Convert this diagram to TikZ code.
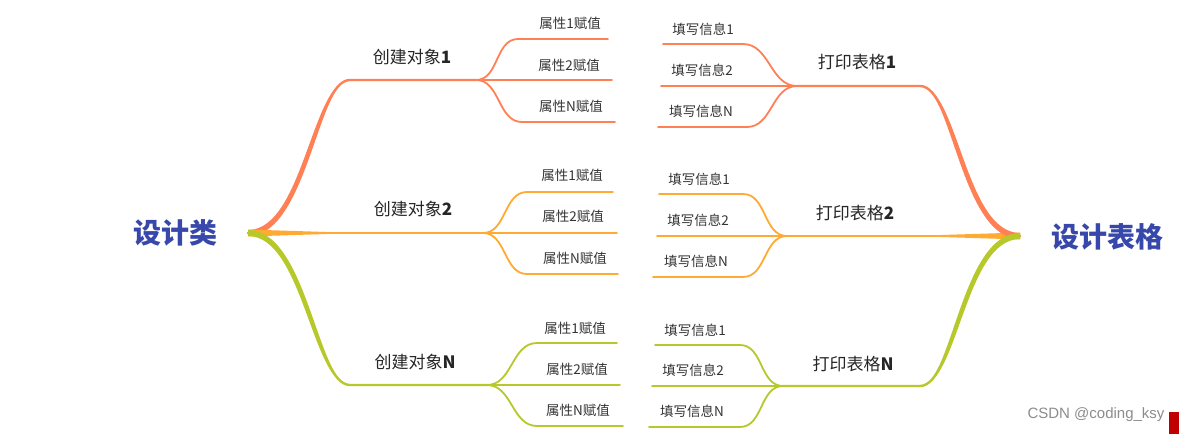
\documentclass[tikz,border=0pt]{standalone}
\usepackage{fontspec}
\setmainfont{Noto Sans CJK SC}
\newfontfamily\wmfont{Liberation Sans}
\usetikzlibrary{calc}
\definecolor{cOne}{RGB}{255,128,85}
\definecolor{cTwo}{RGB}{255,170,50}
\definecolor{cThree}{RGB}{182,200,42}
\definecolor{rootblue}{RGB}{55,72,170}
\definecolor{txtgray}{RGB}{51,51,51}
\definecolor{wmgray}{RGB}{140,140,140}
\definecolor{wmred}{RGB}{192,0,0}
\begin{document}
\begin{tikzpicture}[x=1pt,y=-1pt,
  rootlabel/.style={inner sep=0pt, font=\fontsize{28}{30}\selectfont\bfseries, text=rootblue},
  mainlabel/.style={inner sep=0pt, font=\fontsize{17}{19}\selectfont, text=black!85},
  sublabel/.style={inner sep=0pt, font=\fontsize{13.5}{15}\selectfont, text=txtgray},
  subline/.style={line width=1.8pt, line cap=round},
  mainline/.style={line width=2.4pt, line cap=round},
]
\path[use as bounding box] (0,0) rectangle (1179,434);

% ---------- coordinates ----------
\coordinate (rootL) at (248,233);
\coordinate (rootR) at (1020,236);
\coordinate (m1s) at (350,80);  \coordinate (m1j) at (476,80);
\coordinate (m2j) at (483,233);
\coordinate (m3s) at (350,385); \coordinate (m3j) at (487,385);
\coordinate (n1s) at (920,86);  \coordinate (n1j) at (797,86);
\coordinate (n2j) at (787,236);
\coordinate (n3s) at (920,386); \coordinate (n3j) at (783,386);
% left sub ends
\coordinate (a11s) at (518,39);  \coordinate (a11e) at (608,39);
\coordinate (a12e) at (612,80);
\coordinate (a13s) at (522,122); \coordinate (a13e) at (615,122);
\coordinate (a21s) at (527,192); \coordinate (a21e) at (613,192);
\coordinate (a22e) at (617,233);
\coordinate (a23s) at (527,274); \coordinate (a23e) at (618,274);
\coordinate (a31s) at (537,343); \coordinate (a31e) at (617,343);
\coordinate (a32e) at (620,385);
\coordinate (a33s) at (537,426); \coordinate (a33e) at (623,426);
% right sub ends
\coordinate (b11s) at (743,44);  \coordinate (b11e) at (663,44);
\coordinate (b12e) at (661,86);
\coordinate (b13s) at (747,127); \coordinate (b13e) at (658,127);
\coordinate (b21s) at (743,194); \coordinate (b21e) at (659,194);
\coordinate (b22e) at (657,236);
\coordinate (b23s) at (743,277); \coordinate (b23e) at (653,277);
\coordinate (b31s) at (740,345); \coordinate (b31e) at (655,345);
\coordinate (b32e) at (652,386);
\coordinate (b33s) at (740,427); \coordinate (b33e) at (649,427);

% ---------- labels ----------
\node[rootlabel] (L) at (175,233) {设计类};
\node[rootlabel] (R) at (1107,237) {设计表格};
\node[mainlabel] (c1) at (412,57) {创建对象{\bfseries 1}};
\node[mainlabel] (c2) at (413,209) {创建对象{\bfseries 2}};
\node[mainlabel] (c3) at (415,362) {创建对象{\bfseries N}};
\node[mainlabel] (p1) at (857,62) {打印表格{\bfseries 1}};
\node[mainlabel] (p2) at (855,213) {打印表格{\bfseries 2}};
\node[mainlabel] (p3) at (853,364) {打印表格{\bfseries N}};

\node[sublabel] (s11) at (570,23) {属性1赋值};
\node[sublabel] (s12) at (569,65) {属性2赋值};
\node[sublabel] (s13) at (571,106) {属性N赋值};
\node[sublabel] (s21) at (572,175) {属性1赋值};
\node[sublabel] (s22) at (573,216) {属性2赋值};
\node[sublabel] (s23) at (575,258) {属性N赋值};
\node[sublabel] (s31) at (575,328) {属性1赋值};
\node[sublabel] (s32) at (577,369) {属性2赋值};
\node[sublabel] (s33) at (578,410) {属性N赋值};

\node[sublabel] (t11) at (703,29) {填写信息1};
\node[sublabel] (t12) at (702,70) {填写信息2};
\node[sublabel] (t13) at (701,111) {填写信息N};
\node[sublabel] (t21) at (699,179) {填写信息1};
\node[sublabel] (t22) at (698,220) {填写信息2};
\node[sublabel] (t23) at (696,261) {填写信息N};
\node[sublabel] (t31) at (695,330) {填写信息1};
\node[sublabel] (t32) at (693,370) {填写信息2};
\node[sublabel] (t33) at (692,411) {填写信息N};

% ---------- left main branches ----------
\fill[cOne] ($(rootL)+(0,-3)$) .. controls ($(rootL)+(55,-3)$) and ($(m1s)+(-38,0)$) .. (m1s)
  .. controls ($(m1s)+(-32,0)$) and ($(rootL)+(59,3)$) .. ($(rootL)+(0,3)$) -- cycle;
\draw[mainline,cOne] (rootL) .. controls ($(rootL)+(57,0)$) and ($(m1s)+(-35,0)$) .. (m1s) -- (m1j);

\fill[cTwo] ($(rootL)+(0,-3.5)$) -- ($(rootL)+(110,0)$) -- ($(rootL)+(0,3.5)$) -- cycle;
\draw[mainline,cTwo] (rootL) -- (m2j);

\fill[cThree] ($(rootL)+(0,-3)$) .. controls ($(rootL)+(59,-3)$) and ($(m3s)+(-32,0)$) .. (m3s)
  .. controls ($(m3s)+(-38,0)$) and ($(rootL)+(55,3)$) .. ($(rootL)+(0,3)$) -- cycle;
\draw[mainline,cThree] (rootL) .. controls ($(rootL)+(57,0)$) and ($(m3s)+(-35,0)$) .. (m3s) -- (m3j);

% ---------- right main branches ----------
\fill[cTwo] ($(rootR)+(0,-3.5)$) -- ($(rootR)+(-110,0)$) -- ($(rootR)+(0,3.5)$) -- cycle;
\draw[mainline,cTwo] (rootR) -- (n2j);

\fill[cOne] ($(rootR)+(0,-3)$) .. controls ($(rootR)+(-55,-3)$) and ($(n1s)+(38,0)$) .. (n1s)
  .. controls ($(n1s)+(32,0)$) and ($(rootR)+(-59,3)$) .. ($(rootR)+(0,3)$) -- cycle;
\draw[mainline,cOne] (rootR) .. controls ($(rootR)+(-57,0)$) and ($(n1s)+(35,0)$) .. (n1s) -- (n1j);

\fill[cThree] ($(rootR)+(0,-3)$) .. controls ($(rootR)+(-59,-3)$) and ($(n3s)+(32,0)$) .. (n3s)
  .. controls ($(n3s)+(38,0)$) and ($(rootR)+(-55,3)$) .. ($(rootR)+(0,3)$) -- cycle;
\draw[mainline,cThree] (rootR) .. controls ($(rootR)+(-57,0)$) and ($(n3s)+(35,0)$) .. (n3s) -- (n3j);

% ---------- left sub branches ----------
\draw[subline,cOne] (m1j) to[out=0,in=180] (a11s) -- (a11e);
\draw[subline,cOne] (m1j) -- (a12e);
\draw[subline,cOne] (m1j) to[out=0,in=180] (a13s) -- (a13e);
\draw[subline,cTwo] (m2j) to[out=0,in=180] (a21s) -- (a21e);
\draw[subline,cTwo] (m2j) -- (a22e);
\draw[subline,cTwo] (m2j) to[out=0,in=180] (a23s) -- (a23e);
\draw[subline,cThree] (m3j) to[out=0,in=180] (a31s) -- (a31e);
\draw[subline,cThree] (m3j) -- (a32e);
\draw[subline,cThree] (m3j) to[out=0,in=180] (a33s) -- (a33e);

% ---------- right sub branches ----------
\draw[subline,cOne] (n1j) to[out=180,in=0] (b11s) -- (b11e);
\draw[subline,cOne] (n1j) -- (b12e);
\draw[subline,cOne] (n1j) to[out=180,in=0] (b13s) -- (b13e);
\draw[subline,cTwo] (n2j) to[out=180,in=0] (b21s) -- (b21e);
\draw[subline,cTwo] (n2j) -- (b22e);
\draw[subline,cTwo] (n2j) to[out=180,in=0] (b23s) -- (b23e);
\draw[subline,cThree] (n3j) to[out=180,in=0] (b31s) -- (b31e);
\draw[subline,cThree] (n3j) -- (b32e);
\draw[subline,cThree] (n3j) to[out=180,in=0] (b33s) -- (b33e);

% ---------- watermark ----------
\node[inner sep=0pt, font=\wmfont\fontsize{15}{17}\selectfont, text=wmgray] (wm) at (1096,415) {CSDN @coding\_ksy};
\fill[wmred] (1169,412) rectangle (1179,434);
\end{tikzpicture}
\end{document}
